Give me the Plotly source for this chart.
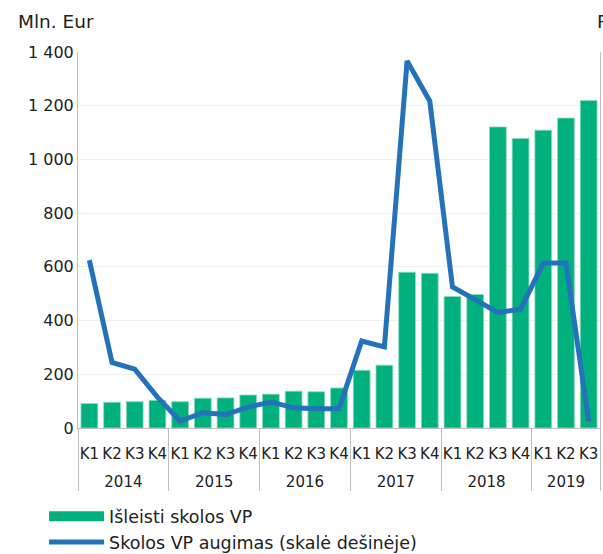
import plotly.graph_objects as go

years = ["2014"] * 4 + ["2015"] * 4 + ["2016"] * 4 + ["2017"] * 4 + ["2018"] * 4 + ["2019"] * 3
quarters = ["K1", "K2", "K3", "K4"] * 5 + ["K1", "K2", "K3"]

issued = [91, 96, 98, 103, 98, 111, 112, 123, 126, 137, 135, 149,
          215, 234, 580, 576, 490, 497, 1121, 1078, 1109, 1154, 1219]

growth = [62.5, 24.4, 21.9, 11.5, 2.6, 5.7, 5.0, 7.8, 9.7, 7.5, 7.2, 7.2,
          32.4, 30.2, 136.7, 121.7, 52.5, 47.8, 43.0, 44.2, 61.4, 61.4, 2.6]

bar_name = "Išleisti skolos VP"
line_name = "Skolos VP augimas (skalė dešinėje)"

GREEN = "#00B07D"
BLUE = "#2472BA"
FONT = "DejaVu Sans"

# year labels are pushed one line lower to leave room under the quarter row
year_labels = ["<br>" + y for y in years]

fig = go.Figure()
fig.add_trace(go.Bar(
    x=[year_labels, quarters], y=issued, name=bar_name,
    marker=dict(color=GREEN, line=dict(color="#8fdcbf", width=0.8)),
    showlegend=False,
))
fig.add_trace(go.Scatter(
    x=[year_labels, quarters], y=growth, name=line_name, yaxis="y2",
    mode="lines", line=dict(color=BLUE, width=5), showlegend=False,
))
# legend entries
fig.add_trace(go.Scatter(
    x=[None], y=[None], name=bar_name, mode="lines",
    line=dict(color=GREEN, width=10), showlegend=True,
))
fig.add_trace(go.Scatter(
    x=[None], y=[None], name=line_name, mode="lines",
    line=dict(color=BLUE, width=5), showlegend=True,
))

fig.update_layout(
    width=603, height=554,
    margin=dict(l=78, r=3, t=52, b=126, autoexpand=False),
    plot_bgcolor="white", paper_bgcolor="white",
    font=dict(family=FONT, size=15, color="#222222"),
    separators=", ",
    bargap=0.26,
    showlegend=True,
    legend=dict(
        orientation="v", x=-0.065, xanchor="left", y=-0.187, yanchor="top",
        font=dict(size=17.5), itemwidth=55, tracegroupgap=0,
        bgcolor="rgba(0,0,0,0)",
    ),
    xaxis=dict(
        type="multicategory", showline=True, linecolor="#bfbfbf",
        tickfont=dict(size=15), tickangle=0, showdividers=True, dividercolor="#bfbfbf",
        ticks="", showgrid=False, ticklabelstandoff=12,
    ),
    yaxis=dict(
        range=[0, 1400], tickvals=[0, 200, 400, 600, 800, 1000, 1200, 1400],
        separatethousands=True, showgrid=True, gridcolor="#f0f0f0",
        showline=True, linecolor="#bfbfbf", tickfont=dict(size=16),
        zeroline=False, ticks="",
    ),
    yaxis2=dict(
        range=[0, 140], overlaying="y", side="right", showgrid=False,
        showline=True, linecolor="#bfbfbf", showticklabels=False, zeroline=False,
    ),
    annotations=[
        dict(text="Mln. Eur", xref="paper", yref="paper", x=-0.119, y=1.08,
             xanchor="left", yanchor="middle", showarrow=False, font=dict(size=18.5)),
        dict(text="P", xref="paper", yref="paper", x=0.99, y=1.08,
             xanchor="left", yanchor="middle", showarrow=False, font=dict(size=18.5)),
    ],
)

fig.write_html("out.html", config={"displayModeBar": False},
               post_script="document.body.style.margin='0';")
